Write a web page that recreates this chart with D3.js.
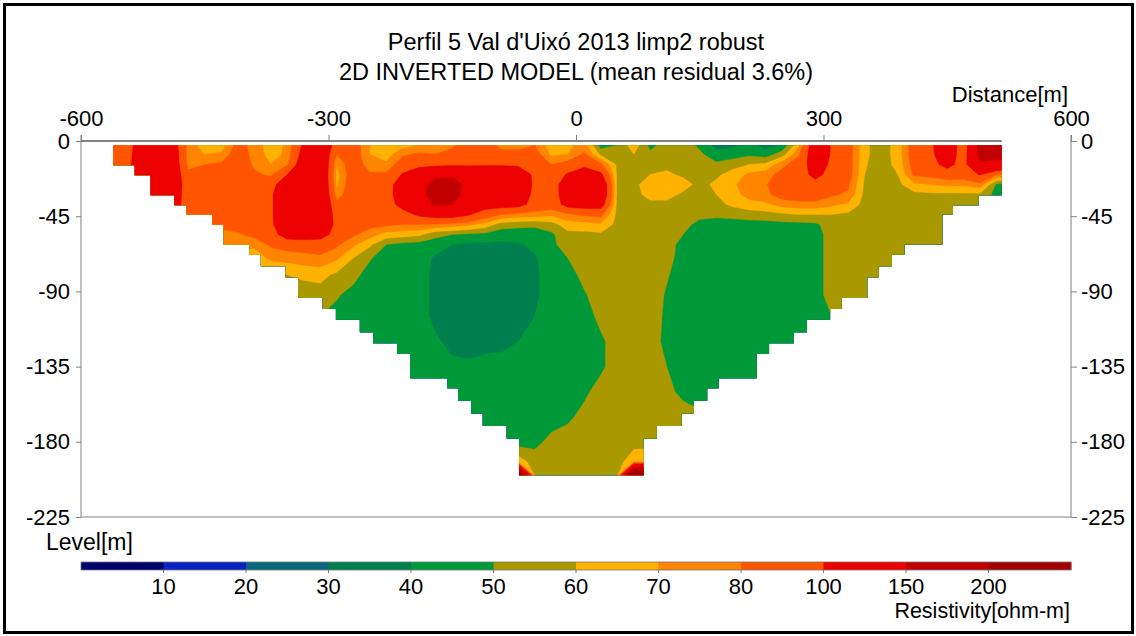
<!DOCTYPE html>
<html><head><meta charset="utf-8">
<script src="https://cdn.jsdelivr.net/npm/d3@7"></script>
<style>
html,body{margin:0;padding:0;background:#fff;}
svg{display:block;font-family:"Liberation Sans",Arial,sans-serif;}
</style></head><body>
<svg id="chart" width="1136" height="636"></svg>
<script>
// ---------------- data ----------------
const titleLines = ["Perfil 5 Val d'Uixó 2013 limp2 robust", "2D INVERTED MODEL (mean residual 3.6%)"];
const distanceTicks = [-600, -300, 0, 300, 600];
const levelTicks = [0, -45, -90, -135, -180, -225];
const classBreaks = [10, 20, 30, 40, 50, 60, 70, 80, 100, 150, 200];
const classColors = ["#00006e","#0a22c4","#0a667c","#007f4e","#00993a","#a99800","#ffb300","#ff8400","#ff5500","#ec0000","#c20000","#a40000"];

// model outline: layer boundaries (depth, m) and left / right ends of each layer (distance, m)
const sectionDepths = [2.5,14.5,20.5,32.5,38.5,44,50,62,68,75,81.5,94,100.5,107,114.5,121,127.5,142,148,155.5,163,170.5,178,200];
const sectionLeft  = [-561,-535,-516,-487,-472,-441,-427,-396,-382,-352,-337,-307,-291,-262,-246,-217,-201,-156,-143,-127,-113,-84,-69];
const sectionRight = [516,516,516,488,457,444,444,398,383,367,353,322,308,280,264,234,219,173,159,143,128,98,82];

// resistivity grid: one vertical profile per distance, values at the depths below (ohm-m)
const gridX = [-570,-550,-530,-510,-490,-470,-450,-430,-410,-390,-370,-350,-330,-310,-290,-270,-250,-230,-210,-190,-170,-150,-130,-110,-90,-70,-50,-30,-10,10,30,50,70,90,110,130,150,170,190,210,230,250,270,290,310,330,350,370,390,410,430,450,470,490,510,530];
const gridDepth = [2.5,8,14,20,26,32,38,44,50,56,62,70,80,92,105,120,135,150,165,180,192,200];
const profiles = [
 [85,85,86,88,88,88,88,88,88,78,72,64,58,54,48,45,45,45,45,45,45,45],
 [85,85,86,95,100,100,95,90,88,78,72,64,58,54,48,45,45,45,45,45,45,45],
 [108,110,112,115,118,118,112,100,90,78,72,64,58,54,48,45,45,45,45,45,45,45],
 [115,118,120,120,120,118,115,105,92,80,72,64,58,54,48,45,45,45,45,45,45,45],
 [115,118,120,120,120,118,115,105,92,80,72,64,58,54,48,45,45,45,45,45,45,45],
 [75,75,76,84,88,88,88,88,86,80,72,64,58,54,48,45,45,45,45,45,45,45],
 [64,70,80,88,90,90,90,90,86,80,72,64,58,54,48,45,45,45,45,45,45,45],
 [64,72,82,88,90,90,90,90,82,78,72,64,58,54,48,45,45,45,45,45,45,45],
 [85,88,90,90,90,90,90,90,86,78,74,66,58,54,48,45,45,45,45,45,45,45],
 [76,76,78,82,90,90,90,90,90,84,72,65,58,54,48,45,45,45,45,45,45,45],
 [64,66,70,78,88,95,95,95,95,90,82,72,60,54,48,45,45,45,45,45,45,45],
 [72,72,78,100,125,130,130,130,125,112,86,74,60,55,50,45,45,45,45,45,45,45],
 [105,110,118,125,130,130,130,130,130,115,86,76,62,55,50,46,45,45,45,45,45,45],
 [120,125,130,130,130,130,130,130,130,112,86,78,63,56,50,46,45,45,45,45,45,45],
 [92,80,70,66,68,74,84,90,92,90,82,72,58,51,47,45,45,45,45,45,45,45],
 [88,88,90,90,90,90,90,90,88,82,72,60,53,47,45,45,45,45,45,45,45,45],
 [70,70,74,82,90,90,90,90,84,74,62,51,46,45,45,45,45,45,45,45,45,45],
 [63,65,72,82,88,90,90,90,82,66,50,45,45,45,45,45,45,45,45,45,45,45],
 [66,78,88,102,115,115,108,92,80,64,47,45,45,45,45,45,45,45,45,45,45,45],
 [70,82,92,120,135,135,125,104,80,62,46,46,46,46,46,46,45,45,45,45,45,45],
 [75,80,92,140,165,170,155,110,78,52,46,38,36,36,36,42,45,45,45,45,45,45],
 [78,84,95,140,170,170,150,112,76,50,40,36,35,35,35,36,43,45,45,45,45,45],
 [88,90,96,125,135,130,120,102,72,48,38,35,35,35,35,35,42,45,45,45,45,45],
 [88,90,97,122,125,122,112,88,66,47,38,35,35,35,35,36,44,45,45,45,45,45],
 [76,84,97,122,125,120,110,80,55,44,38,35,35,35,35,37,44,45,45,45,45,45],
 [76,84,96,118,120,115,108,76,53,44,39,36,35,35,36,40,45,45,45,45,66,280],
 [80,86,92,95,96,95,92,75,52,45,42,39,38,38,40,44,45,45,45,47,55,56],
 [64,68,80,88,90,90,88,72,56,48,47,45,45,45,45,45,45,45,45,53,55,55],
 [66,70,85,102,112,112,108,78,65,57,56,50,46,45,45,45,45,45,48,55,55,55],
 [76,82,95,112,125,125,112,82,66,57,56,55,53,49,45,45,45,48,53,55,55,55],
 [45,58,82,105,125,125,112,84,68,58,56,55,55,55,53,48,48,54,55,55,55,55],
 [50,55,58,58,58,58,57,57,57,56,55,55,55,55,55,55,55,55,55,55,55,55],
 [66,60,55,56,57,56,55,55,55,55,55,55,55,55,55,55,55,55,55,55,68,280],
 [47,52,56,60,66,64,57,55,55,55,55,55,55,55,55,55,55,55,55,55,70,280],
 [55,55,57,62,67,64,57,55,55,55,55,54,51,49,48,47,50,53,55,55,55,55],
 [55,55,56,58,64,58,55,55,53,50,46,45,45,45,45,45,45,47,55,55,55,55],
 [48,52,56,56,57,56,55,53,47,45,45,45,45,45,45,45,45,45,52,55,55,55],
 [36,44,52,58,62,60,57,52,46,45,45,45,45,45,45,45,45,46,50,55,55,55],
 [38,45,56,64,68,66,62,53,46,45,45,45,45,45,45,45,45,46,50,55,55,55],
 [44,48,60,72,76,74,66,55,46,45,45,45,45,45,45,45,45,46,50,55,55,55],
 [36,45,62,75,79,77,68,56,46,45,45,45,45,45,45,45,46,47,50,55,55,55],
 [42,55,76,85,88,86,74,58,47,45,45,45,45,45,45,45,46,47,50,55,55,55],
 [68,78,88,92,92,88,76,60,47,45,45,45,45,45,45,46,47,48,50,55,55,55],
 [118,118,112,105,95,88,76,60,48,45,45,45,45,45,45,47,48,48,50,55,55,55],
 [98,98,96,94,88,82,72,60,55,55,55,55,55,55,50,48,48,48,50,55,55,55],
 [88,86,86,86,82,78,68,58,55,55,55,55,55,55,55,55,55,55,55,55,55,55],
 [62,62,61,60,58,57,56,55,55,55,55,55,55,55,55,55,55,55,55,55,55,55],
 [55,55,55,55,55,55,55,55,55,55,55,55,55,55,55,55,55,55,55,55,55,55],
 [64,64,63,60,57,55,55,55,55,55,55,55,55,55,55,55,55,55,55,55,55,55],
 [88,88,86,82,68,57,55,55,55,55,55,55,55,55,55,55,55,55,55,55,55,55],
 [95,95,92,84,70,58,55,55,55,55,55,55,55,55,55,55,55,55,55,55,55,55],
 [125,118,108,88,72,58,55,55,55,55,55,55,55,55,55,55,55,55,55,55,55,55],
 [82,86,90,88,72,58,55,55,55,55,55,55,55,55,55,55,55,55,55,55,55,55],
 [165,162,145,102,76,58,55,55,55,55,55,55,55,55,55,55,55,55,55,55,55,55],
 [185,168,135,80,48,46,52,55,55,55,55,55,55,55,55,55,55,55,55,55,55,55],
 [185,168,135,75,45,45,52,55,55,55,55,55,55,55,55,55,55,55,55,55,55,55]
];

// ---------------- drawing ----------------
const svg = d3.select("#chart");
const x = d3.scaleLinear([-600, 600], [81, 1071]);
const y = d3.scaleLinear([0, -225], [141, 517]);

// outer frame
svg.append("rect").attr("x", 4.5).attr("y", 4.5).attr("width", 1128).attr("height", 628)
  .attr("fill", "none").attr("stroke", "#000").attr("stroke-width", 3);

// titles
svg.selectAll("text.title").data(titleLines).join("text").attr("class", "title")
  .attr("x", 576).attr("y", (d, i) => 50 + i * 30)
  .attr("text-anchor", "middle").attr("font-size", 23.5).attr("fill", "#000").text(d => d);

// clip path for the model section
const outline = [];
sectionLeft.forEach((l, k) => {
  outline.push([x(l), y(-sectionDepths[k])]);
  outline.push([x(l), y(-sectionDepths[k + 1])]);
});
for (let k = sectionRight.length - 1; k >= 0; k--) {
  outline.push([x(sectionRight[k]), y(-sectionDepths[k + 1])]);
  outline.push([x(sectionRight[k]), y(-sectionDepths[k])]);
}
svg.append("clipPath").attr("id", "sec").append("path")
  .attr("d", "M" + outline.map(p => p.join(",")).join("L") + "Z");

// contours
const nx = gridX.length, ny = gridDepth.length;
const values = new Array(nx * ny);
for (let i = 0; i < nx; i++) for (let j = 0; j < ny; j++) values[j * nx + i] = profiles[i][j];
const thresholds = [0].concat(classBreaks);
const bands = d3.contours().size([nx, ny]).thresholds(thresholds)(values);
const gx = d3.scaleLinear(d3.range(nx), gridX);
const gy = d3.scaleLinear(d3.range(ny), gridDepth);
const proj = d3.geoTransform({
  point(px, py) { this.stream.point(x(gx(px - 0.5)), y(-gy(py - 0.5))); }
});
const path = d3.geoPath(proj);
svg.append("g").attr("clip-path", "url(#sec)")
  .selectAll("path").data(bands).join("path")
  .attr("d", path)
  .attr("fill", (d, i) => classColors[i])
  .attr("stroke", (d, i) => classColors[i]).attr("stroke-width", 0.4);

// frame lines
const axisCol = "#808080";
svg.append("line").attr("x1", x(-600)).attr("x2", x(-600)).attr("y1", 135).attr("y2", y(-225)).attr("stroke", axisCol);
svg.append("line").attr("x1", x(600)).attr("x2", x(600)).attr("y1", 135).attr("y2", y(-225)).attr("stroke", axisCol);
svg.append("line").attr("x1", x(-600)).attr("x2", x(600)).attr("y1", y(-225)).attr("y2", y(-225)).attr("stroke", axisCol);
// surface line
svg.append("line").attr("x1", x(-600)).attr("x2", x(sectionRight[0])).attr("y1", y(0)).attr("y2", y(0))
  .attr("stroke", "#5a5a5a").attr("stroke-width", 1.5);

// axes
const fmt = d => String(d);
function styleAxis(g) {
  g.select(".domain").remove();
  g.selectAll(".tick line").attr("stroke", axisCol);
  g.selectAll(".tick text").attr("fill", "#000").attr("font-size", 22)
    .attr("font-family", '"Liberation Sans",Arial,sans-serif');
}
svg.append("g").attr("transform", `translate(0,${y(0)})`)
  .call(d3.axisTop(x).tickValues(distanceTicks).tickSize(6).tickPadding(9).tickFormat(fmt))
  .call(styleAxis);
svg.append("g").attr("transform", `translate(${x(-600)},0)`)
  .call(d3.axisLeft(y).tickValues(levelTicks).tickSize(5).tickPadding(6).tickFormat(fmt))
  .call(styleAxis);
svg.append("g").attr("transform", `translate(${x(600)},0)`)
  .call(d3.axisRight(y).tickValues(levelTicks).tickSize(6).tickPadding(4).tickFormat(fmt))
  .call(styleAxis);

svg.append("text").attr("x", 1068).attr("y", 102).attr("text-anchor", "end")
  .attr("font-size", 22).text("Distance[m]");
svg.append("text").attr("x", 46).attr("y", 550).attr("font-size", 23).text("Level[m]");

// colour bar
const cb = d3.scaleLinear([0, classColors.length], [81, 1071]);
const cbY = 562, cbH = 8;
svg.append("g").selectAll("rect").data(classColors).join("rect")
  .attr("x", (d, i) => cb(i)).attr("width", (d, i) => cb(i + 1) - cb(i) + 0.5)
  .attr("y", cbY).attr("height", cbH).attr("fill", d => d);
svg.append("rect").attr("x", cb(0)).attr("y", cbY).attr("width", cb(classColors.length) - cb(0))
  .attr("height", cbH).attr("fill", "none").attr("stroke", "#777").attr("stroke-width", 0.8);
svg.append("g").selectAll("line").data(classBreaks).join("line")
  .attr("x1", (d, i) => cb(i + 1)).attr("x2", (d, i) => cb(i + 1))
  .attr("y1", cbY + cbH).attr("y2", cbY + cbH + 3).attr("stroke", "#777");
svg.append("g").selectAll("text").data(classBreaks).join("text")
  .attr("x", (d, i) => cb(i + 1)).attr("y", 594).attr("text-anchor", "middle")
  .attr("font-size", 22).text(d => d);
svg.append("text").attr("x", 1070).attr("y", 618).attr("text-anchor", "end")
  .attr("font-size", 21.5).text("Resistivity[ohm-m]");
</script>
</body></html>
